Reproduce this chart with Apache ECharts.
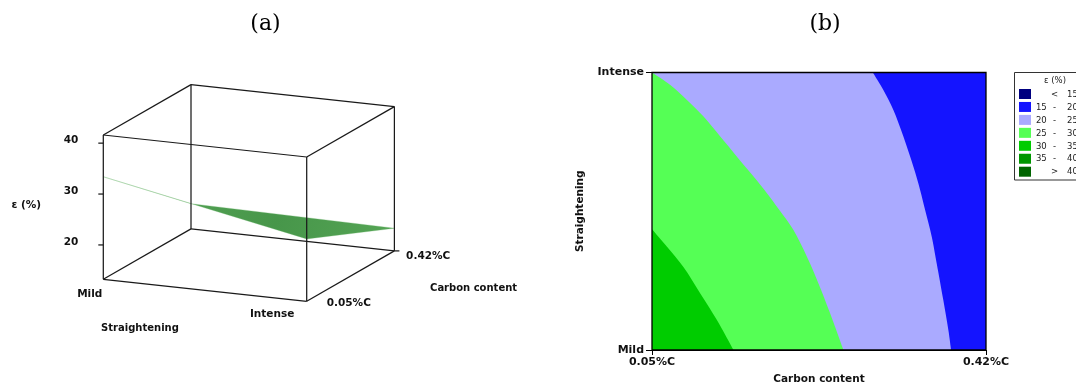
<!DOCTYPE html>
<html>
<head>
<meta charset="utf-8">
<script src="https://cdn.jsdelivr.net/npm/echarts@6/dist/echarts.min.js"></script>
<style>
html,body{margin:0;padding:0;background:#fff;}
#chart{width:1076px;height:387px;}
</style>
</head>
<body>
<div id="chart"></div>
<script>
// ---------------- DATA ----------------
const straighteningLevels = [0, 1];
const straighteningLabels = ['Mild', 'Intense'];
const carbonTicks = [0.05, 0.42];
const carbonLabels = ['0.05%C', '0.42%C'];
const epsAxisRange = [13.25, 41.6];
const epsTicks = [20, 30, 40];

// (a) response surface: eps (%) at [0.05%C, 0.42%C]
const surfaceMild = [33.4, 18.2];
const surfaceIntense = [25.5, 17.7];

// (b) contour boundaries: [carbon content, straightening (0 = Mild, 1 = Intense)]
const boundary20 = [[0.2946, 1], [0.3063, 0.937], [0.3174, 0.865], [0.3285, 0.769], [0.3395, 0.661],
  [0.3470, 0.577], [0.3525, 0.505], [0.3599, 0.408], [0.3654, 0.312], [0.3727, 0.180], [0.3783, 0.072], [0.3813, 0]];
const boundary25 = [[0.05, 1], [0.0703, 0.955], [0.0887, 0.901], [0.1071, 0.841], [0.1256, 0.769],
  [0.1450, 0.693], [0.1625, 0.625], [0.1773, 0.565], [0.1909, 0.505], [0.2067, 0.432], [0.2216, 0.336],
  [0.2344, 0.240], [0.2473, 0.132], [0.2621, 0]];
const boundary30 = [[0.05, 0.435], [0.0666, 0.372], [0.0850, 0.298], [0.1035, 0.204], [0.1219, 0.108], [0.1403, 0]];

// legend
const legendTitle = 'ε (%)';
const legendRows = [['', '<', '15'], ['15', '-', '20'], ['20', '-', '25'], ['25', '-', '30'],
  ['30', '-', '35'], ['35', '-', '40'], ['', '>', '40']];
const legendColors = ['#000080', '#1414ff', '#aaaaff', '#55ff55', '#00cc00', '#009600', '#006400'];

// ---------------- LAYOUT / STYLE ----------------
const BOX = { o: [103.3, 279.3], vx: [203.4, 22.0], vy: [87.7, -50.4], vz: [0, -144.3] };
const FONT_B = '"DejaVu Sans", Verdana, sans-serif';
const TXT = '#111';

function renderPanelA(params, api) {
  const P = (s, c, z) => {
    const u = (s - straighteningLevels[0]) / (straighteningLevels[1] - straighteningLevels[0]);
    const v = (c - carbonTicks[0]) / (carbonTicks[1] - carbonTicks[0]);
    const w = (z - epsAxisRange[0]) / (epsAxisRange[1] - epsAxisRange[0]);
    return api.coord([
      BOX.o[0] + u * BOX.vx[0] + v * BOX.vy[0] + w * BOX.vz[0],
      BOX.o[1] + u * BOX.vx[1] + v * BOX.vy[1] + w * BOX.vz[1]
    ]);
  };
  const s0 = straighteningLevels[0], s1 = straighteningLevels[1];
  const c0 = carbonTicks[0], c1 = carbonTicks[1];
  const z0 = epsAxisRange[0], z1 = epsAxisRange[1];
  const children = [];
  // surface
  children.push({
    type: 'polygon',
    shape: { points: [P(s0, c0, surfaceMild[0]), P(s0, c1, surfaceMild[1]), P(s1, c1, surfaceIntense[1]), P(s1, c0, surfaceIntense[0])] },
    style: {
      fill: new echarts.graphic.LinearGradient(0, 0, 1, 1, [
        { offset: 0, color: '#5aa85a' }, { offset: 0.6, color: '#47964a' }, { offset: 1, color: '#55a555' }]),
      stroke: '#6ab36a', lineWidth: 0.3
    }
  });
  // box edges
  const S = [s0, s1], C = [c0, c1], Z = [z0, z1];
  const lineStyle = { stroke: '#1a1a1a', lineWidth: 1.25 };
  const seg = (a, b) => children.push({ type: 'line', shape: { x1: a[0], y1: a[1], x2: b[0], y2: b[1] }, style: lineStyle });
  for (const c of C) for (const z of Z) seg(P(s0, c, z), P(s1, c, z));
  for (const s of S) for (const z of Z) seg(P(s, c0, z), P(s, c1, z));
  for (const s of S) for (const c of C) seg(P(s, c, z0), P(s, c, z1));
  // z ticks + labels
  const tf = 'bold 10.5px ' + FONT_B;
  epsTicks.forEach(t => {
    const p = P(s0, c0, t);
    seg([p[0] - 5, p[1]], p);
    children.push({ type: 'text', style: { x: p[0] - 25, y: p[1] - 3, text: String(t), align: 'right', verticalAlign: 'middle', font: tf, fill: TXT } });
  });
  const pm = P(s0, c0, (z0 + z1) / 2);
  children.push({ type: 'text', style: { x: pm[0] - 77, y: pm[1] - 2, text: 'ε (%)', align: 'center', verticalAlign: 'middle', font: 'bold 10.5px ' + FONT_B, fill: TXT } });
  // straightening labels
  const pA = P(s0, c0, z0), pC = P(s1, c0, z0), pD = P(s1, c1, z0);
  children.push({ type: 'text', style: { x: pA[0] - 1, y: pA[1] + 15, text: straighteningLabels[0], align: 'right', verticalAlign: 'middle', font: tf, fill: TXT } });
  children.push({ type: 'text', style: { x: pC[0] - 12.4, y: pC[1] + 12.8, text: straighteningLabels[1], align: 'right', verticalAlign: 'middle', font: tf, fill: TXT } });
  const pSm = P((s0 + s1) / 2, c0, z0);
  children.push({ type: 'text', style: { x: pSm[0] - 65, y: pSm[1] + 38, text: 'Straightening', align: 'center', verticalAlign: 'middle', font: 'bold 10px ' + FONT_B, fill: TXT } });
  // carbon labels
  children.push({ type: 'text', style: { x: pC[0] + 20, y: pC[1] + 1.8, text: carbonLabels[0], align: 'left', verticalAlign: 'middle', font: tf, fill: TXT } });
  children.push({ type: 'text', style: { x: pD[0] + 11.7, y: pD[1] + 5.6, text: carbonLabels[1], align: 'left', verticalAlign: 'middle', font: tf, fill: TXT } });
  seg(pD, [pD[0] + 5, pD[1]]);
  const pCm = P(s1, (c0 + c1) / 2, z0);
  children.push({ type: 'text', style: { x: pCm[0] + 123, y: pCm[1] + 12, text: 'Carbon content', align: 'center', verticalAlign: 'middle', font: 'bold 10px ' + FONT_B, fill: TXT } });
  return { type: 'group', children };
}

// smooth (Catmull-Rom) outline through boundary points, rendering only
function curvePath(pts) {
  let d = 'M' + pts[0][0] + ' ' + pts[0][1];
  for (let i = 0; i < pts.length - 1; i++) {
    const p0 = pts[i - 1] || pts[i], p1 = pts[i], p2 = pts[i + 1], p3 = pts[i + 2] || pts[i + 1];
    const c1x = p1[0] + (p2[0] - p0[0]) / 6, c1y = p1[1] + (p2[1] - p0[1]) / 6;
    const c2x = p2[0] - (p3[0] - p1[0]) / 6, c2y = p2[1] - (p3[1] - p1[1]) / 6;
    d += ' C' + c1x + ' ' + c1y + ' ' + c2x + ' ' + c2y + ' ' + p2[0] + ' ' + p2[1];
  }
  return d;
}

function renderPanelB(params, api) {
  const xmin = carbonTicks[0], xmax = carbonTicks[1];
  const ymin = straighteningLevels[0], ymax = straighteningLevels[1];
  const region = (b) => {
    const pts = b.map(p => api.coord(p));
    const e1 = api.coord([xmin, b[b.length - 1][1]]);
    const e2 = api.coord([xmin, b[0][1]]);
    return curvePath(pts) + ' L' + e1[0] + ' ' + e1[1] + ' L' + e2[0] + ' ' + e2[1] + ' Z';
  };
  const tl = api.coord([xmin, ymax]), br = api.coord([xmax, ymin]);
  const children = [
    { type: 'rect', shape: { x: tl[0], y: tl[1], width: br[0] - tl[0], height: br[1] - tl[1] }, style: { fill: legendColors[1] } },
    { type: 'path', shape: { pathData: region(boundary20) }, style: { fill: legendColors[2] } },
    { type: 'path', shape: { pathData: region(boundary25) }, style: { fill: legendColors[3] } },
    { type: 'path', shape: { pathData: region(boundary30) }, style: { fill: legendColors[4] } },
    { type: 'rect', shape: { x: tl[0], y: tl[1], width: br[0] - tl[0], height: br[1] - tl[1] }, style: { fill: null, stroke: '#000', lineWidth: 1.3 } }
  ];
  return { type: 'group', children };
}

// legend graphics
const legendGraphic = [];
legendGraphic.push({ type: 'rect', shape: { x: 1014.5, y: 72.5, width: 90, height: 107.5 }, style: { fill: '#fff', stroke: '#333', lineWidth: 1 } });
legendGraphic.push({ type: 'text', style: { x: 1055, y: 81, text: legendTitle, align: 'center', verticalAlign: 'middle', font: '8.5px ' + FONT_B, fill: '#222' } });
legendRows.forEach((r, i) => {
  const y = 89 + i * 12.95;
  legendGraphic.push({ type: 'rect', shape: { x: 1019, y: y, width: 12, height: 10 }, style: { fill: legendColors[i] } });
  const ty = y + 5.5;
  if (r[0]) legendGraphic.push({ type: 'text', style: { x: 1046.7, y: ty, text: r[0], align: 'right', verticalAlign: 'middle', font: '8.5px ' + FONT_B, fill: '#222' } });
  legendGraphic.push({ type: 'text', style: { x: 1054.5, y: ty, text: r[1], align: 'center', verticalAlign: 'middle', font: '8.5px ' + FONT_B, fill: '#222' } });
  legendGraphic.push({ type: 'text', style: { x: 1067, y: ty, text: r[2], align: 'left', verticalAlign: 'middle', font: '8.5px ' + FONT_B, fill: '#222' } });
});

const chart = echarts.init(document.getElementById('chart'), null, { renderer: 'canvas' });
const labelStyleB = { fontFamily: FONT_B, fontWeight: 'bold', fontSize: 11, color: TXT };
const option = {
  animation: false,
  backgroundColor: '#fff',
  grid: [
    { left: 0, top: 0, width: 540, height: 387, show: false, outerBoundsMode: 'none', containLabel: false },
    { left: 652, top: 72.5, width: 334, height: 277.5, show: false, outerBoundsMode: 'none', containLabel: false }
  ],
  xAxis: [
    { gridIndex: 0, type: 'value', min: 0, max: 540, show: false },
    {
      gridIndex: 1, type: 'value', min: carbonTicks[0], max: carbonTicks[1],
      name: 'Carbon content', nameLocation: 'middle', nameGap: 24,
      nameTextStyle: { fontFamily: FONT_B, fontWeight: 'bold', fontSize: 10.5, color: TXT },
      axisLine: { show: true, lineStyle: { color: '#000' } },
      axisTick: { show: true, customValues: carbonTicks, length: 5, lineStyle: { color: '#000' } },
      axisLabel: Object.assign({ customValues: carbonTicks, margin: 7, showMinLabel: true, showMaxLabel: true,
        formatter: v => carbonLabels[carbonTicks.findIndex(t => Math.abs(t - v) < 1e-6)] || '' }, labelStyleB),
      splitLine: { show: false }
    }
  ],
  yAxis: [
    { gridIndex: 0, type: 'value', min: 0, max: 387, inverse: true, show: false },
    {
      gridIndex: 1, type: 'value', min: straighteningLevels[0], max: straighteningLevels[1],
      name: 'Straightening', nameLocation: 'middle', nameGap: 66, nameRotate: 90,
      nameTextStyle: { fontFamily: FONT_B, fontWeight: 'bold', fontSize: 10.5, color: TXT },
      axisLine: { show: true, lineStyle: { color: '#000' } },
      axisTick: { show: true, customValues: straighteningLevels, length: 6, lineStyle: { color: '#000' } },
      axisLabel: Object.assign({ customValues: straighteningLevels, margin: 8, showMinLabel: true, showMaxLabel: true,
        formatter: v => straighteningLabels[straighteningLevels.indexOf(v)] || '' }, labelStyleB),
      splitLine: { show: false }
    }
  ],
  series: [
    { type: 'custom', name: 'surface', xAxisIndex: 0, yAxisIndex: 0, data: [[0, 0]], clip: false, silent: true, renderItem: renderPanelA, z: 2 },
    { type: 'custom', name: 'contour', xAxisIndex: 1, yAxisIndex: 1, data: [[carbonTicks[0], straighteningLevels[0]]], clip: false, silent: true, renderItem: renderPanelB, z: 1 }
  ],
  graphic: [
    { type: 'text', style: { x: 265.5, y: 24, text: '(a)', align: 'center', verticalAlign: 'middle', font: '22px "DejaVu Serif", "Liberation Serif", serif', fill: '#000' } },
    { type: 'text', style: { x: 825, y: 24, text: '(b)', align: 'center', verticalAlign: 'middle', font: '22px "DejaVu Serif", "Liberation Serif", serif', fill: '#000' } },
    { type: 'group', children: legendGraphic }
  ]
};
chart.setOption(option);
</script>
</body>
</html>
